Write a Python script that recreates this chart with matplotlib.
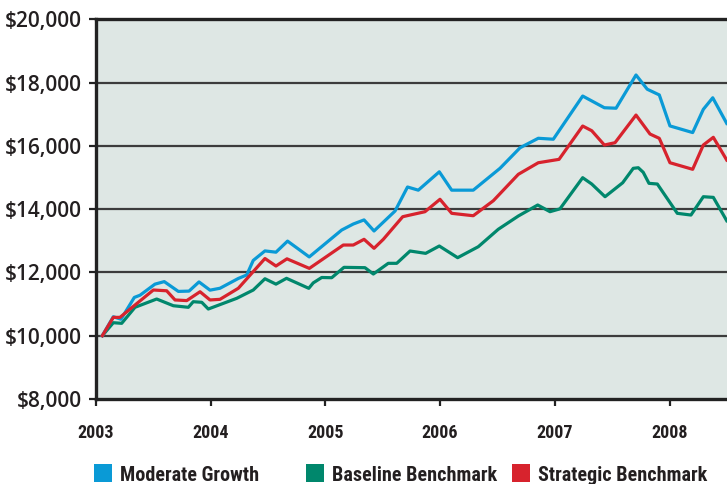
import matplotlib
matplotlib.use("Agg")
import matplotlib.pyplot as plt
from matplotlib import font_manager as fm
from matplotlib.patches import Rectangle
from matplotlib.ticker import FixedLocator, FuncFormatter

# ---------------- data ----------------
moderate_x = [2003.055, 2003.151, 2003.218, 2003.334, 2003.384, 2003.514, 2003.595, 2003.718,
              2003.811, 2003.898, 2003.994, 2004.081, 2004.241, 2004.314, 2004.371, 2004.473,
              2004.569, 2004.670, 2004.859, 2005.142, 2005.243, 2005.337, 2005.424, 2005.607,
              2005.716, 2005.810, 2005.993, 2006.101, 2006.289, 2006.522, 2006.697, 2006.856,
              2006.987, 2007.243, 2007.432, 2007.534, 2007.708, 2007.806, 2007.911, 2008.004,
              2008.202, 2008.295, 2008.377, 2008.499]
moderate_y = [10000, 10600, 10520, 11210, 11280, 11630, 11710, 11400,
              11410, 11700, 11440, 11500, 11810, 11920, 12380, 12680,
              12640, 12990, 12490, 13340, 13530, 13660, 13310, 13940,
              14700, 14600, 15180, 14600, 14600, 15290, 15940, 16240,
              16210, 17575, 17205, 17190, 18240, 17790, 17610, 16630,
              16420, 17155, 17520, 16710]

strategic_x = [2003.055, 2003.151, 2003.209, 2003.340, 2003.500, 2003.616, 2003.689, 2003.791,
               2003.907, 2003.994, 2004.081, 2004.241, 2004.473, 2004.569, 2004.665, 2004.860,
               2005.156, 2005.243, 2005.337, 2005.424, 2005.505, 2005.674, 2005.738, 2005.868,
               2005.999, 2006.101, 2006.289, 2006.464, 2006.682, 2006.856, 2007.037, 2007.243,
               2007.322, 2007.432, 2007.525, 2007.708, 2007.830, 2007.911, 2008.004, 2008.202,
               2008.295, 2008.382, 2008.499]
strategic_y = [10000, 10580, 10580, 10970, 11445, 11420, 11130, 11110,
               11390, 11130, 11150, 11500, 12440, 12203, 12430, 12128,
               12866, 12866, 13047, 12762, 13047, 13761, 13814, 13919,
               14311, 13868, 13792, 14266, 15101, 15467, 15574, 16627,
               16479, 16027, 16100, 16974, 16374, 16238, 15467, 15259,
               16027, 16270, 15552]

baseline_x = [2003.055, 2003.151, 2003.224, 2003.340, 2003.529, 2003.674, 2003.805, 2003.848,
              2003.922, 2003.979, 2004.227, 2004.371, 2004.473, 2004.569, 2004.661, 2004.855,
              2004.894, 2004.968, 2005.055, 2005.162, 2005.345, 2005.418, 2005.548, 2005.622,
              2005.738, 2005.874, 2005.993, 2006.153, 2006.333, 2006.507, 2006.682, 2006.851,
              2006.958, 2007.045, 2007.243, 2007.322, 2007.438, 2007.592, 2007.684, 2007.728,
              2007.771, 2007.821, 2007.894, 2008.068, 2008.187, 2008.295, 2008.382, 2008.499]
baseline_y = [10000, 10411, 10392, 10898, 11160, 10948, 10898, 11075,
              11056, 10844, 11182, 11444, 11800, 11630, 11814, 11498,
              11670, 11840, 11833, 12161, 12150, 11950, 12288, 12288,
              12677, 12603, 12835, 12466, 12813, 13363, 13783, 14131,
              13920, 14010, 14994, 14794, 14393, 14835, 15290, 15309,
              15164, 14816, 14794, 13868, 13814, 14393, 14372, 13634]

series_names = ["Moderate Growth", "Baseline Benchmark", "Strategic Benchmark"]
series_colors = ["#0a9ad6", "#00876c", "#d7232d"]

y_ticks = [8000, 10000, 12000, 14000, 16000, 18000, 20000]
x_ticks = [2003, 2004, 2005, 2006, 2007, 2008]
x_tick_labels = ["2003", "2004", "2005", "2006", "2007", "2008"]


# ---------------- fonts ----------------
def _is_bold(f):
    w = f.weight
    if isinstance(w, (int, float)):
        return w >= 600
    return str(w).lower() in ("bold", "semibold", "demibold", "demi", "heavy", "extra bold", "black", "600", "700")


def _is_condensed(f):
    s = f.stretch
    name = (f.name + " " + f.fname).lower()
    if "narrow" in name or "condensed" in name or "cond" in name:
        return True
    if isinstance(s, (int, float)):
        return s < 100
    return "condensed" in str(s).lower()


def find_condensed_bold():
    cands = [f for f in fm.fontManager.ttflist if _is_bold(f) and _is_condensed(f)]
    prio = ["Liberation Sans Narrow", "Roboto Condensed", "Open Sans Condensed",
            "DejaVu Sans", "Noto Sans", "Open Sans", "Roboto"]
    for p in prio:
        for f in cands:
            if f.name.startswith(p) and "oblique" not in f.fname.lower() and "italic" not in f.fname.lower():
                return f.fname
    for f in cands:
        if "oblique" not in f.fname.lower() and "italic" not in f.fname.lower():
            return f.fname
    return None


cond_file = find_condensed_bold()


def narrow_props(size):
    if cond_file:
        return fm.FontProperties(fname=cond_file, size=size)
    return fm.FontProperties(family=["Liberation Sans", "DejaVu Sans"],
                             weight="bold", size=size * 0.82)


W, H = 727, 484
fig = plt.figure(figsize=(W / 100, H / 100), dpi=100)
fig.patch.set_facecolor("white")

left_px, right_px, top_px, bottom_px = 96, 727, 19.3, 399
ax = fig.add_axes([left_px / W, (H - bottom_px) / H, (right_px - left_px) / W,
                   (bottom_px - top_px) / H])
ax.set_facecolor("#dee7e4")

ax.set_xlim(2003, 2003 + (right_px - left_px) / 114.7)
ax.set_ylim(8000, 20000)

for v in y_ticks[1:-1]:
    ax.axhline(v, color="#3c3c3c", lw=1.6, zorder=1)

ax.plot(baseline_x, baseline_y, color=series_colors[1], lw=2.3, zorder=3)
ax.plot(moderate_x, moderate_y, color=series_colors[0], lw=2.3, zorder=3.5)
ax.plot(strategic_x, strategic_y, color=series_colors[2], lw=2.3, zorder=4)

ax.spines["right"].set_visible(False)
for s in ["left", "top", "bottom"]:
    ax.spines[s].set_color("#222222")
    ax.spines[s].set_linewidth(2.4)
    ax.spines[s].set_zorder(5)

ax.yaxis.set_major_locator(FixedLocator(y_ticks))
ax.yaxis.set_major_formatter(FuncFormatter(lambda v, p: "${:,.0f}".format(v)))
ax.set_xticks(x_ticks)
ax.set_xticklabels(x_tick_labels)

ax.tick_params(axis="y", direction="out", length=5, width=1.6, color="#222222", pad=5)
ax.tick_params(axis="x", direction="out", length=5, width=1.6, color="#222222", pad=13)
for lab in ax.get_yticklabels():
    lab.set_family(["Open Sans", "DejaVu Sans"])
    lab.set_fontweight(600)
    lab.set_fontsize(15)
    lab.set_color("#231f20")
for lab in ax.get_xticklabels():
    lab.set_fontproperties(narrow_props(13))
    lab.set_color("#231f20")

sq_left = [94, 306, 512]
txt_left = [120, 332, 538]
for i in range(3):
    fig.add_artist(Rectangle((sq_left[i] / W, (H - 482) / H), 17.5 / W, 18.5 / H,
                             transform=fig.transFigure, facecolor=series_colors[i],
                             edgecolor="none"))
    fig.text(txt_left[i] / W, (H - 481) / H, series_names[i],
             fontproperties=narrow_props(14.5), color="#231f20", ha="left",
             va="baseline")

fig.savefig("out.png", dpi=100)
